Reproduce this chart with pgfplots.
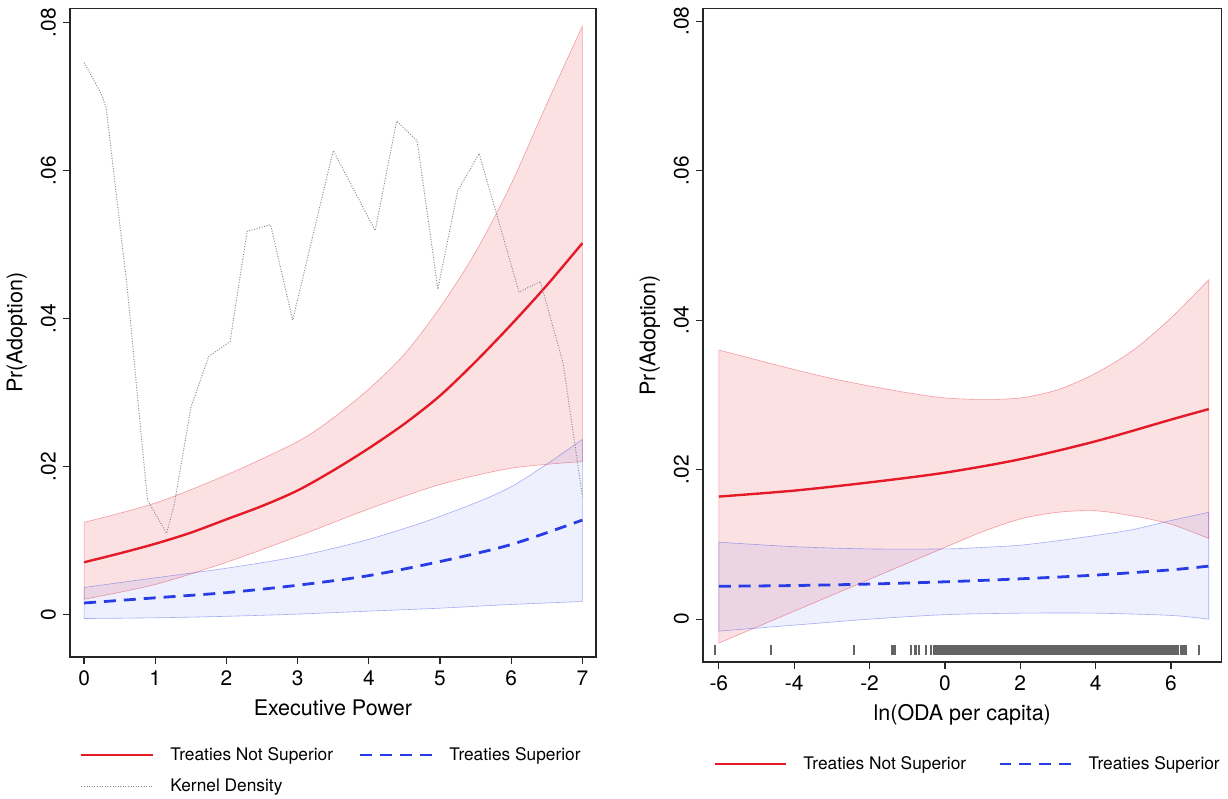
\documentclass[border=0pt]{standalone}
\usepackage{fontspec}
\setmainfont{TeX Gyre Heros}
\usepackage{pgfplots}
\pgfplotsset{compat=1.18}
\usepgfplotslibrary{fillbetween}

\definecolor{sred}{RGB}{228,26,40}
\definecolor{sblue}{RGB}{40,60,230}
\definecolor{rugc}{RGB}{100,100,100}
\definecolor{kdc}{RGB}{140,140,140}

\pgfplotsset{
  panel/.style={
    scale only axis, anchor=north west,
    axis line style={line width=0.75pt, black!85},
    tick align=outside, xtick pos=bottom, ytick pos=left,
    major tick length=3.5pt,
    every tick/.style={line width=0.6pt, black!85},
    scaled y ticks=false,
    ytick={0,0.02,0.04,0.06,0.08},
    yticklabels={0,.02,.04,.06,.08},
    yticklabel style={rotate=90, anchor=south, font=\fontsize{10.5}{12}\selectfont},
    xticklabel style={font=\fontsize{10.5}{12}\selectfont},
    label style={font=\fontsize{10.8}{13}\selectfont},
    ylabel={Pr(Adoption)},
    /pgf/number format/assume math mode=true,
    legend columns=2,
    legend cell align=left,
    legend image code/.code={\draw[##1] (0pt,0pt) -- (36pt,0pt);},
    legend style={draw=none, fill=none, inner sep=0pt, at={(rel axis cs:0,0)},
      anchor=north west, font=\fontsize{8.7}{10}\selectfont, row sep=4pt,
      /tikz/every odd column/.append style={column sep=6pt}},
  },
  bound/.style={draw=none, forget plot, smooth},
  band/.style={draw=#1, draw opacity=0.4, line width=0.3pt, fill=#1, fill opacity=0.13, forget plot},
  mainline/.style={sred, line width=1.2pt, smooth},
  dashline/.style={sblue, line width=1.4pt, smooth, dash pattern=on 6pt off 4pt},
}

\begin{document}
\begin{tikzpicture}
\path (0pt,0pt) rectangle (614pt,-398.5pt);

% ---------------- left panel ----------------
\begin{axis}[panel,
  at={(32.75pt,-2pt)}, width=264pt, height=325.5pt,
  xmin=-0.20, xmax=7.19, ymin=-0.0057, ymax=0.0819,
  xtick={0,1,...,7},
  xlabel={Executive Power},
  legend style={xshift=5pt, yshift=-43pt, /tikz/every even column/.append style={column sep=11pt}},
]
% red band
\addplot[bound, name path=ru] coordinates {
  (0,0.0125) (1,0.0151) (2,0.0189) (3,0.0234) (3.5,0.0266) (4,0.0305)
  (4.5,0.0352) (5,0.0415) (5.5,0.0490) (6,0.0582) (6.5,0.0690) (7,0.0795)};
\addplot[bound, name path=rl] coordinates {
  (0,0.0021) (1,0.0041) (2,0.0071) (3,0.0106) (4,0.0143) (5,0.0176) (6,0.0198) (7,0.0207)};
\addplot[band=sred] fill between[of=ru and rl];
% blue band
\addplot[bound, name path=bu] coordinates {
  (0,0.0037) (1,0.0050) (2,0.0063) (3,0.0079) (4,0.0102) (5,0.0133) (6,0.0173) (7,0.0237)};
\addplot[bound, name path=bl] coordinates {
  (0,-0.0005) (1,-0.0004) (2,-0.0002) (3,0.0001) (4,0.0005) (5,0.0009) (6,0.0014) (7,0.0018)};
\addplot[band=sblue, fill opacity=0.08] fill between[of=bu and bl];

\addplot[mainline] coordinates {
  (0,0.0071) (0.5,0.0083) (1,0.0096) (1.5,0.0111) (2,0.0129) (2.5,0.0147) (3,0.0168)
  (3.5,0.0195) (4,0.0225) (4.5,0.0258) (5,0.0296) (5.5,0.0342) (6,0.0392) (6.5,0.0445) (7,0.0502)};
\addlegendentry{Treaties Not Superior}
\addplot[dashline] coordinates {
  (0,0.0016) (1,0.0023) (2,0.0030) (3,0.0040) (4,0.0053) (5,0.0072) (6,0.0095) (7,0.0128)};
\addlegendentry{Treaties Superior}
\addplot[kdc, line width=0.5pt, dash pattern=on 0.5pt off 0.8pt] coordinates {
  (0.00,0.0746) (0.24,0.0704) (0.31,0.0685) (0.61,0.0438) (0.76,0.0286) (0.89,0.0155)
  (1.16,0.0110) (1.27,0.0151) (1.50,0.0280) (1.75,0.0349) (2.05,0.0369) (2.29,0.0518)
  (2.62,0.0527) (2.93,0.0398) (3.50,0.0627) (4.09,0.0519) (4.39,0.0667) (4.68,0.0640)
  (4.97,0.0440) (5.25,0.0573) (5.55,0.0623) (6.11,0.0436) (6.41,0.0450) (6.73,0.0340)
  (7.00,0.0160)};
\addlegendentry{Kernel Density}
\end{axis}

% ---------------- right panel ----------------
\begin{axis}[panel,
  at={(350.5pt,-2pt)}, width=260.25pt, height=328pt,
  xmin=-6.42, xmax=7.34, ymin=-0.00573, ymax=0.0817,
  xtick={-6,-4,...,6},
  xlabel={ln(ODA per capita)},
  legend style={xshift=5pt, yshift=-45pt, /tikz/every even column/.append style={column sep=14pt}},
]
\addplot[bound, name path=ru] coordinates {
  (-6,0.0360) (-5,0.0347) (-4,0.0334) (-3,0.0322) (-2,0.0312) (-1,0.0303) (0,0.0296)
  (1,0.0294) (2,0.0296) (3,0.0307) (4,0.0329) (5,0.0360) (6,0.0403) (7,0.0454)};
\addplot[bound, name path=rl] coordinates {
  (-6,-0.0032) (-3,0.0032) (0,0.0096) (1,0.0117) (2,0.0134) (3,0.0143) (4,0.0145)
  (5,0.0138) (6,0.0127) (7,0.0108)};
\addplot[band=sred] fill between[of=ru and rl];
\addplot[bound, name path=bu] coordinates {
  (-6,0.0103) (-4,0.0097) (-2,0.0094) (0,0.0094) (1,0.0096) (2,0.0099) (3,0.0105)
  (4,0.0112) (5,0.0120) (6,0.0132) (7,0.0143)};
\addplot[bound, name path=bl] coordinates {
  (-6,-0.0016) (-4,-0.0008) (-2,0.0000) (0,0.0006) (2,0.0008) (4,0.0008) (6,0.0005) (7,0.0000)};
\addplot[band=sblue, fill opacity=0.08] fill between[of=bu and bl];

\addplot[mainline] coordinates {
  (-6,0.0164) (-4,0.0172) (-2,0.0183) (0,0.0196) (2,0.0214) (4,0.0238) (6,0.0267) (7,0.0281)};
\addlegendentry{Treaties Not Superior}
\addplot[dashline] coordinates {
  (-6,0.0044) (-4,0.0045) (-2,0.0047) (0,0.0050) (2,0.0054) (4,0.0059) (6,0.0066) (7,0.0071)};
\addlegendentry{Treaties Superior}

% rug of observed values
\addplot[only marks, mark=|, mark size=2.5pt, mark options={line width=1.1pt, rugc}, forget plot]
  table[row sep=\\, x index=0, y expr=-0.0041] {
  x\\ -6.11\\ -4.61\\ -2.41\\ -1.39\\ -1.33\\ -0.89\\ -0.78\\ -0.69\\ -0.51\\
  -0.38\\ -0.30\\ -0.25\\ -0.20\\ -0.15\\ -0.10\\ -0.05\\ 0.00\\ 0.05\\ 0.10\\
  0.15\\ 0.20\\ 0.25\\ 0.30\\ 0.35\\ 0.40\\ 0.45\\ 0.50\\ 0.55\\ 0.60\\
  0.65\\ 0.70\\ 0.75\\ 0.80\\ 0.85\\ 0.90\\ 0.95\\ 1.00\\ 1.05\\ 1.10\\
  1.15\\ 1.20\\ 1.25\\ 1.30\\ 1.35\\ 1.40\\ 1.45\\ 1.50\\ 1.55\\ 1.60\\
  1.65\\ 1.70\\ 1.75\\ 1.80\\ 1.85\\ 1.90\\ 1.95\\ 2.00\\ 2.05\\ 2.10\\
  2.15\\ 2.20\\ 2.25\\ 2.30\\ 2.35\\ 2.40\\ 2.45\\ 2.50\\ 2.55\\ 2.60\\
  2.65\\ 2.70\\ 2.75\\ 2.80\\ 2.85\\ 2.90\\ 2.95\\ 3.00\\ 3.05\\ 3.10\\
  3.15\\ 3.20\\ 3.25\\ 3.30\\ 3.35\\ 3.40\\ 3.45\\ 3.50\\ 3.55\\ 3.60\\
  3.65\\ 3.70\\ 3.75\\ 3.80\\ 3.85\\ 3.90\\ 3.95\\ 4.00\\ 4.05\\ 4.10\\
  4.15\\ 4.20\\ 4.25\\ 4.30\\ 4.35\\ 4.40\\ 4.45\\ 4.50\\ 4.55\\ 4.60\\
  4.65\\ 4.70\\ 4.75\\ 4.80\\ 4.85\\ 4.90\\ 4.95\\ 5.00\\ 5.05\\ 5.10\\
  5.15\\ 5.20\\ 5.25\\ 5.30\\ 5.35\\ 5.40\\ 5.45\\ 5.50\\ 5.55\\ 5.60\\
  5.65\\ 5.70\\ 5.75\\ 5.80\\ 5.85\\ 5.90\\ 5.95\\ 6.00\\ 6.06\\ 6.12\\
  6.19\\ 6.26\\ 6.33\\ 6.40\\ 6.75\\
};
\end{axis}
\end{tikzpicture}
\end{document}
